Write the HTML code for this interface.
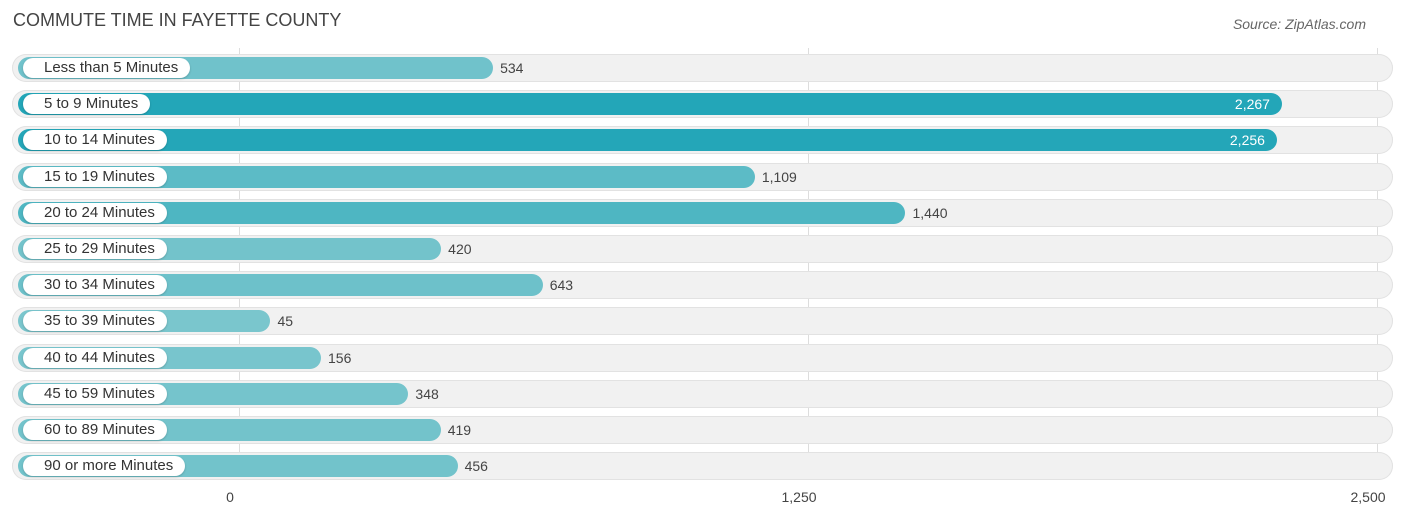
<!DOCTYPE html>
<html><head><meta charset="utf-8"><style>
body{margin:0;background:#fff;font-family:"Liberation Sans",sans-serif}
#c{position:relative;width:1406px;height:522px;overflow:hidden}
.t{position:absolute;left:13px;top:10px;font-size:18px;color:#444}
.s{position:absolute;right:40px;top:16px;font-size:14px;color:#666;font-style:italic}
.grid{position:absolute;top:48px;width:1px;height:432px;background:#ddd}
.row{position:absolute;left:12px;width:1381px;height:28px;border-radius:14px;background:#f1f1f1;box-shadow:inset 0 0 0 1px #e2e2e2}
.bar{position:absolute;left:18px;height:22px;border-radius:11px}
.lab{position:absolute;left:23px;height:20px;line-height:20px;padding:0 12px 0 21px;border-radius:10px;background:#fff;font-size:15px;color:#333;box-shadow:0 1px 2px rgba(0,0,0,.2)}
.val{position:absolute;font-size:14px;line-height:22px}
.tick{position:absolute;top:489px;font-size:14px;color:#444;transform:translateX(-50%)}
</style></head><body>
<div id="c">
<div class="t">COMMUTE TIME IN FAYETTE COUNTY</div>
<div class="s">Source: ZipAtlas.com</div>
</div>
<script>
const categories=["Less than 5 Minutes","5 to 9 Minutes","10 to 14 Minutes","15 to 19 Minutes","20 to 24 Minutes","25 to 29 Minutes","30 to 34 Minutes","35 to 39 Minutes","40 to 44 Minutes","45 to 59 Minutes","60 to 89 Minutes","90 or more Minutes"];
const values=[534,2267,2256,1109,1440,420,643,45,156,348,419,456];
const ticks=[0,1250,2500];
const tickLabels=["0","1,250","2,500"];
const c=document.getElementById('c');
const xg=v=>239+v*0.4552;
const xe=v=>250+v*0.4552;
const yc=i=>68+i*36.2;
const max=Math.max(...values);
ticks.forEach((t,i)=>{
 const g=document.createElement('div');g.className='grid';g.style.left=xg(t)+'px';
 
 
 c.appendChild(g);
 const l=document.createElement('div');l.className='tick';l.style.left=(xg(t)-9+9*(i==0?0:0))+'px';l.textContent=tickLabels[i];
 
 
 c.appendChild(l);
});
function mix(f){const a=[122,198,205],b=[35,166,184];return 'rgb('+a.map((x,i)=>Math.round(x+(b[i]-x)*f)).join(',')+')';}
categories.forEach((cat,i)=>{
 const y=yc(i);
 const r=document.createElement('div');r.className='row';r.style.top=(y-14)+'px';
 
 
 c.appendChild(r);
 const b=document.createElement('div');b.className='bar';b.style.top=(y-11)+'px';
 b.style.width=(xe(values[i])-18)+'px';b.style.background=mix(Math.pow(values[i]/max,1.5));
 
 
 c.appendChild(b);
 const l=document.createElement('div');l.className='lab';l.style.top=(y-10)+'px';l.textContent=cat;
 
 
 c.appendChild(l);
 const v=document.createElement('div');v.className='val';v.style.top=(y-11)+'px';
 v.textContent=values[i].toLocaleString('en-US');
 if(values[i]>2000){v.style.right=(1406-xe(values[i])+12)+'px';v.style.color='#fff';}
 else{v.style.left=(xe(values[i])+7)+'px';v.style.color='#444';}
 
 
 c.appendChild(v);
});
</script>
</body></html>
